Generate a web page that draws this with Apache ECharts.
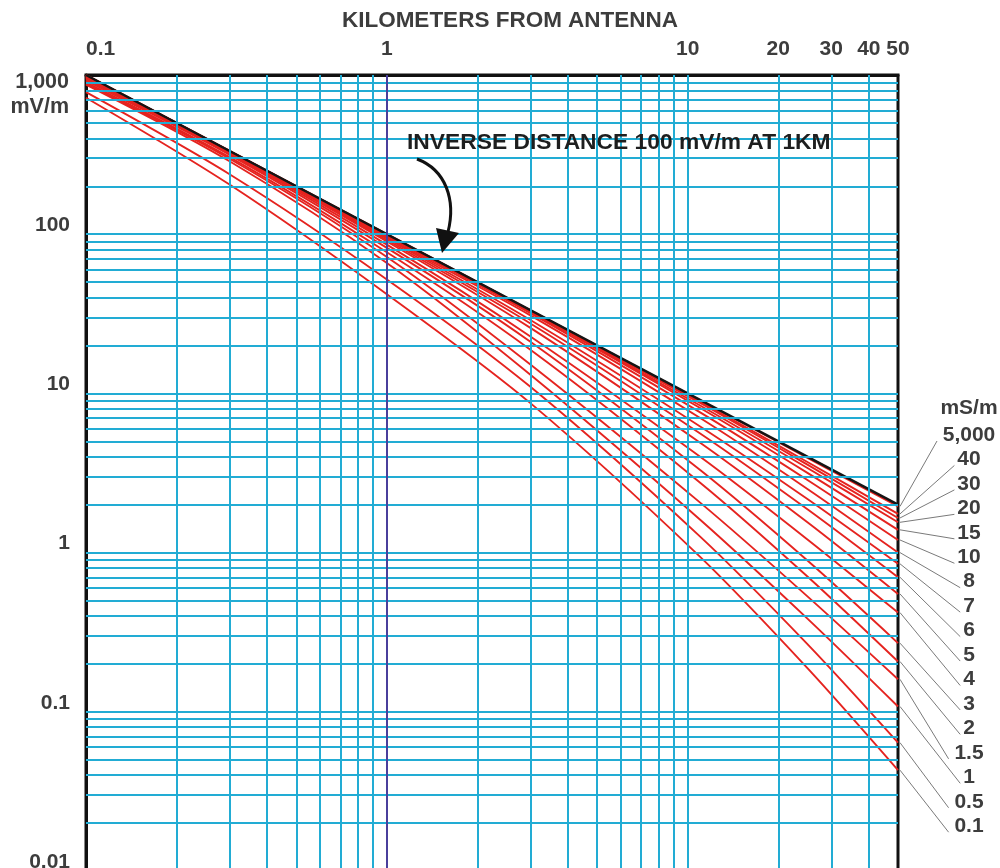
<!DOCTYPE html>
<html>
<head>
<meta charset="utf-8">
<script src="https://cdn.jsdelivr.net/npm/echarts@6/dist/echarts.min.js"></script>
<style>
  html, body { margin: 0; padding: 0; background: #ffffff; }
  #chart { width: 1000px; height: 868px; }
</style>
</head>
<body>
<div id="chart"></div>
<script>
// Distances (km) at which each ground-wave curve is sampled
const distanceKm = [0.1, 0.3, 1, 3, 11, 25, 50];

// Field strength (mV/m) for each ground conductivity (mS/m)
const fs5000 = [1000, 333.3, 100, 33.3, 9.05, 3.94, 1.95];
const fs40   = [1000, 333.2, 99.8, 33.2, 8.85, 3.71, 1.75];
const fs30   = [1000, 333, 99.5, 33.0, 8.7, 3.57, 1.65];
const fs20   = [990, 332.5, 99, 32.8, 8.4, 3.40, 1.55];
const fs15   = [990, 331.8, 98, 32.5, 8.1, 3.17, 1.39];
const fs10   = [980, 330.4, 97, 31.9, 7.6, 2.86, 1.2];
const fs8    = [970, 329.5, 95, 30.9, 7.0, 2.51, 1.0];
const fs7    = [970, 328.5, 94, 28.9, 6.2, 2.17, 0.85];
const fs6    = [960, 327, 92, 27.5, 5.6, 1.87, 0.7];
const fs5    = [950, 325, 90, 25.8, 4.9, 1.55, 0.55];
const fs4    = [940, 321, 86, 22.8, 4.0, 1.21, 0.42];
const fs3    = [920, 315, 82, 21.1, 3.3, 0.891, 0.27];
const fs2    = [900, 305, 77, 18.8, 2.75, 0.708, 0.207];
const fs1_5  = [880, 298, 72, 15.2, 2.06, 0.531, 0.16];
const fs1    = [870, 287, 66, 13.1, 1.61, 0.385, 0.108];
const fs0_5  = [780, 238, 52, 11.0, 1.26, 0.266, 0.064];
const fs0_1  = [720, 205, 42, 8.69, 0.94, 0.188, 0.043];

// Inverse-distance reference: 100 mV/m at 1 km
const inverseDistance = [[0.1, 1000], [50, 2]];

const conductivityLabels = ['5,000', '40', '30', '20', '15', '10', '8', '7', '6', '5', '4', '3', '2', '1.5', '1', '0.5', '0.1'];
const conductivityCurves = [fs5000, fs40, fs30, fs20, fs15, fs10, fs8, fs7, fs6, fs5, fs4, fs3, fs2, fs1_5, fs1, fs0_5, fs0_1];

// Axis tick labels
const xTickLabels = [0.1, 1, 10, 20, 30, 40, 50];
const yTickLabels = [0.01, 0.1, 1, 10, 100];
const yTopLabel = 1000;

// Log-paper rulings
const xRulings = [0.2, 0.3, 0.4, 0.5, 0.6, 0.7, 0.8, 0.9,
                  2, 3, 4, 5, 6, 7, 8, 9, 10, 20, 30, 40];
const xRulingsDark = [1];
const yRulings = [0.02, 0.03, 0.04, 0.05, 0.06, 0.07, 0.08, 0.09, 0.1,
                  0.2, 0.3, 0.4, 0.5, 0.6, 0.7, 0.8, 0.9, 1,
                  2, 3, 4, 5, 6, 7, 8, 9, 10,
                  20, 30, 40, 50, 60, 70, 80, 90, 100,
                  200, 300, 400, 500, 600, 700, 800, 900];

const FONT = '"Liberation Sans", Arial, Helvetica, sans-serif';
const TEXT = '#3d3d3d';
const RULE = '#22acd4';
const RED = '#e5231f';

const chart = echarts.init(document.getElementById('chart'), null, { renderer: 'canvas' });

function fmt(v) {
  const n = Number(Number(v).toPrecision(6));
  return n >= 1000 ? n.toLocaleString('en-US') : String(n);
}

function rulingSeries(axisKey, values, color, width) {
  return {
    type: 'line', data: [], symbol: 'none', silent: true, z: 1,
    markLine: {
      silent: true, symbol: ['none', 'none'], animation: false,
      label: { show: false },
      emphasis: { disabled: true },
      lineStyle: { type: 'solid', color: color, width: width },
      data: values.map(v => ({ [axisKey]: v }))
    }
  };
}

const curveSeries = conductivityCurves.map((vals, i) => ({
  type: 'line',
  name: conductivityLabels[i],
  data: distanceKm.map((d, j) => [d, vals[j]]),
  smooth: 0.3,
  symbol: 'none',
  silent: true,
  z: 3,
  lineStyle: { color: RED, width: 1.9 }
}));

const option = {
  animation: false,
  backgroundColor: '#ffffff',
  grid: {
    left: 86, top: 75, width: 812, height: 796,
    outerBoundsMode: 'none',
    containLabel: false,
    show: true, borderColor: '#111', borderWidth: 3, backgroundColor: '#ffffff'
  },
  xAxis: {
    type: 'log', logBase: 10, min: 0.1, max: 50, position: 'top',
    name: 'KILOMETERS FROM ANTENNA', nameLocation: 'middle', nameGap: 43,
    nameTextStyle: { fontFamily: FONT, fontWeight: 'bold', fontSize: 22.5, color: TEXT, padding: [0, 0, 0, 36] },
    axisLine: { show: true, lineStyle: { color: '#111', width: 3 } },
    axisTick: { show: false },
    splitLine: { show: false },
    axisLabel: {
      customValues: xTickLabels,
      margin: 15, fontFamily: FONT, fontWeight: 'bold', fontSize: 21, color: TEXT,
      alignMinLabel: 'left',
      formatter: v => fmt(v)
    }
  },
  yAxis: {
    type: 'log', logBase: 10, min: 0.01, max: 1000,
    axisLine: { show: true, lineStyle: { color: '#111', width: 3 } },
    axisTick: { show: false },
    splitLine: { show: false },
    axisLabel: {
      customValues: yTickLabels,
      margin: 16, fontFamily: FONT, fontWeight: 'bold', fontSize: 21, color: TEXT,
      verticalAlign: 'middle',
      formatter: v => '{n|' + fmt(v) + '}',
      rich: {
        n: { fontFamily: FONT, fontWeight: 'bold', fontSize: 21, color: TEXT, lineHeight: 22, padding: [0, 0, 18, 0] }
      }
    }
  },
  series: [
    rulingSeries('xAxis', xRulings, RULE, 2),
    rulingSeries('yAxis', yRulings, RULE, 2),
    rulingSeries('xAxis', xRulingsDark, '#4a3f9c', 2),
    ...curveSeries,
    {
      type: 'line', name: 'inverse distance', data: inverseDistance,
      symbol: 'none', silent: true, z: 4,
      lineStyle: { color: '#151515', width: 2.5 }
    }
  ]
};

chart.setOption(option);

const toPx = p => chart.convertToPixel({ xAxisIndex: 0, yAxisIndex: 0 }, p);
const graphics = [];

// Top y label with its unit, just below the 1,000 ruling
const topPx = toPx([0.1, yTopLabel]);
graphics.push({
  type: 'text', x: topPx[0] - 17, y: topPx[1] + 7,
  style: { text: fmt(yTopLabel), font: 'bold 21.5px ' + FONT, fill: TEXT, align: 'right', verticalAlign: 'middle' }
});
graphics.push({
  type: 'text', x: topPx[0] - 17, y: topPx[1] + 32,
  style: { text: 'mV/m', font: 'bold 21.5px ' + FONT, fill: TEXT, align: 'right', verticalAlign: 'middle' }
});

// Conductivity key on the right with leader lines to each curve end
graphics.push({
  type: 'text', x: 969, y: 408,
  style: { text: 'mS/m', font: 'bold 21px ' + FONT, fill: TEXT, align: 'center', verticalAlign: 'middle' }
});
const keyTop = 435, keyStep = 24.45;
conductivityLabels.forEach((lab, i) => {
  const y = keyTop + i * keyStep;
  const vals = conductivityCurves[i];
  const end = toPx([distanceKm[distanceKm.length - 1], vals[vals.length - 1]]);
  const halfW = lab.length * 5.8;
  graphics.push({
    type: 'line', silent: true,
    shape: { x1: 969 - halfW - 3, y1: y + 6, x2: end[0] + 2, y2: end[1] },
    style: { stroke: '#7a7a7a', lineWidth: 1 }
  });
  graphics.push({
    type: 'text', x: 969, y: y,
    style: { text: lab, font: 'bold 21px ' + FONT, fill: TEXT, align: 'center', verticalAlign: 'middle' }
  });
});

// Inverse-distance callout with curved arrow
graphics.push({
  type: 'text', x: 407, y: 143, z: 10,
  style: { text: 'INVERSE DISTANCE 100 mV/m AT 1KM', font: 'bold 22.8px ' + FONT, fill: '#1e1e1e', align: 'left', verticalAlign: 'middle' }
});
graphics.push({
  type: 'bezierCurve', z: 10, silent: true,
  shape: { x1: 417, y1: 159, cpx1: 446, cpy1: 170, cpx2: 456, cpy2: 200, x2: 448, y2: 232 },
  style: { stroke: '#111', lineWidth: 3, fill: null }
});
graphics.push({
  type: 'polygon', z: 10, silent: true,
  shape: { points: [[436, 228], [459, 233], [442, 253]] },
  style: { fill: '#111' }
});

chart.setOption({ graphic: graphics });
</script>
</body>
</html>
